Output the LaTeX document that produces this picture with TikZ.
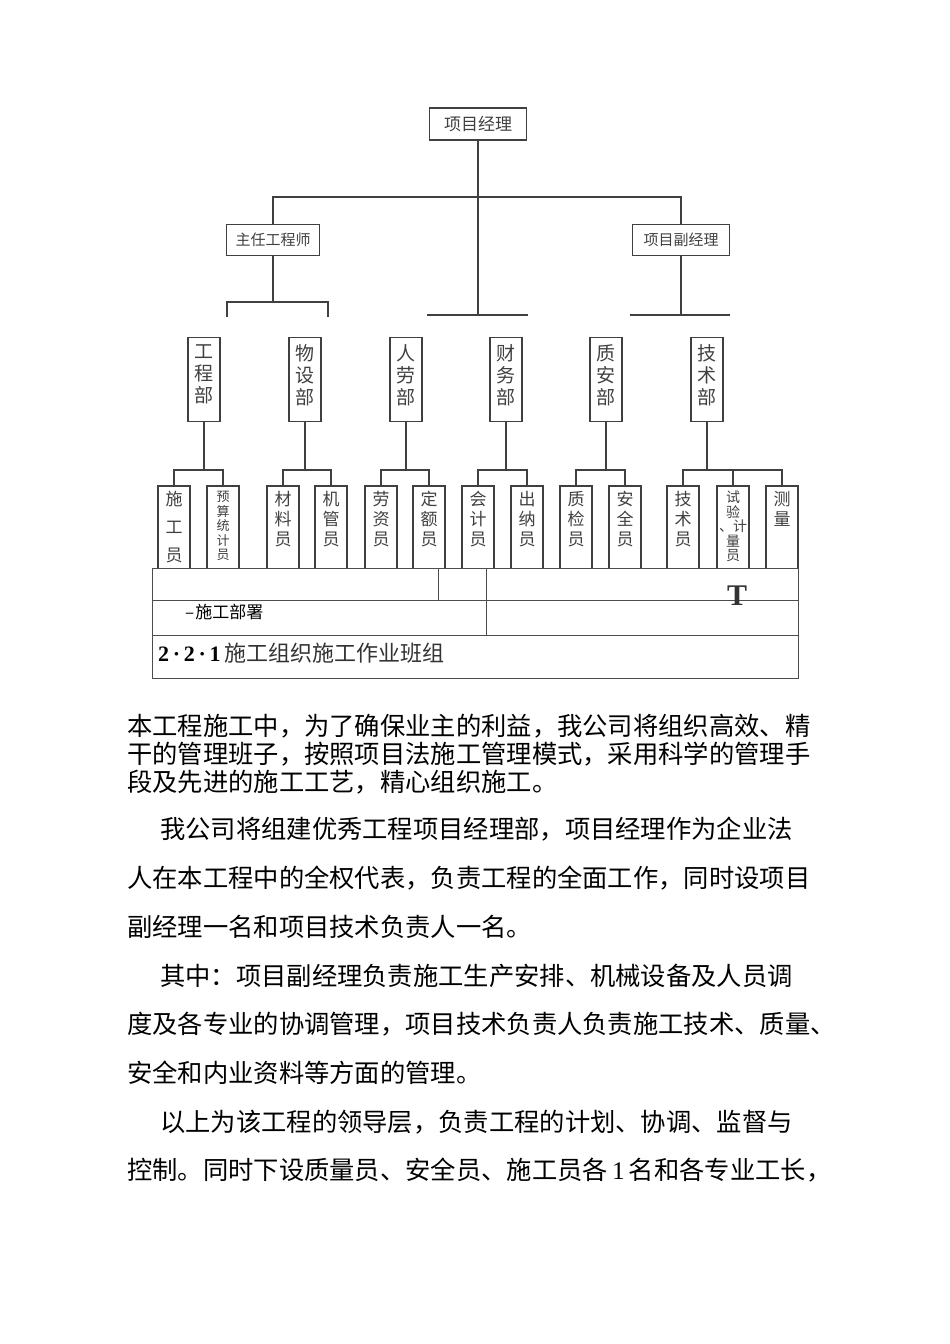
\documentclass[tikz,border=0pt]{standalone}
\usepackage{fontspec}
\setmainfont{Liberation Serif}
\newfontfamily\cjk{Noto Sans CJK SC}
\begin{document}
\begin{tikzpicture}[x=1pt,y=-1pt,
  ln/.style={draw=black!75,line width=1.2pt},
  bx/.style={draw=black!75,line width=1.2pt,inner sep=0pt},
  vt/.style={text=black!75,align=center,inner sep=0pt,anchor=north},
  body/.style={anchor=base west,inner sep=0pt,font=\cjk\fontsize{25.3}{27}\selectfont}]
\useasboundingbox (0,0) rectangle (950,1344);
% top level
\node[bx,minimum width=97,minimum height=32,font=\cjk\fontsize{17}{18}\selectfont,text=black!75] (pm) at (478,124) {项目经理};
\node[bx,minimum width=93,minimum height=31,font=\cjk\fontsize{15}{16}\selectfont,text=black!75] (ce) at (273,240) {主任工程师};
\node[bx,minimum width=97,minimum height=31,font=\cjk\fontsize{15}{16}\selectfont,text=black!75] (dpm) at (681,240) {项目副经理};
\draw[ln] (pm.south) -- (478,315);
\draw[ln] (ce.north) -- (273,197) -- (681,197) -- (dpm.north);
\draw[ln] (427,315) -- (528,315);
\draw[ln] (dpm.south) -- (681,315);
\draw[ln] (630,315) -- (730,315);
\draw[ln] (ce.south) -- (273,302);
\draw[ln] (227,317) |- (328,302) -- (328,317);
% departments
\foreach \n/\x/\t in {d1/204/工\\程\\部, d2/305/物\\设\\部, d3/406/人\\劳\\部, d4/506/财\\务\\部, d5/606/质\\安\\部, d6/707/技\\术\\部}{
  \node[bx,minimum width=32,minimum height=84,anchor=north] (\n) at (\x,337) {};
  \node[vt,font=\cjk\fontsize{19}{22}\selectfont] at (\x,344) {\t};
}
% staff
\foreach \x/\d/\t/\f in {174/d1/施\\工\\员/{\fontsize{17}{28}}, 223/d1/预\\算\\统\\计\\员/{\fontsize{13}{14.5}},
  283/d2/材\\料\\员/{\fontsize{17}{20}}, 331/d2/机\\管\\员/{\fontsize{17}{20}},
  381/d3/劳\\资\\员/{\fontsize{17}{20}}, 429/d3/定\\额\\员/{\fontsize{17}{20}},
  478/d4/会\\计\\员/{\fontsize{17}{20}}, 527/d4/出\\纳\\员/{\fontsize{17}{20}},
  576/d5/质\\检\\员/{\fontsize{17}{20}}, 625/d5/安\\全\\员/{\fontsize{17}{20}},
  683/d6/技\\术\\员/{\fontsize{17}{20}}, 733/d6/试\\验\\、计\\量\\员/{\fontsize{14}{14.5}}, 782/d6/测\\量/{\fontsize{17}{20}}}{
  \draw[ln] (\x-16,568) -- (\x-16,486) -- (\x+16,486) -- (\x+16,568);
  \draw[ln] (\d.south) -- (\d.south|-0,470) -| (\x,486);
  \begin{scope}
  \clip (\x-16,486) rectangle (\x+16,567);
  \node[vt,font=\cjk\f\selectfont] at (\x,491) {\t};
  \end{scope}
}
% table
\draw[draw=black!70,line width=1pt] (152,568) rectangle (798,678);
\draw[draw=black!70,line width=1pt] (152,600) -- (798,600) (152,635) -- (798,635)
  (438,568) -- (438,600) (486,568) -- (486,635);
\node[anchor=base,inner sep=0pt,font=\bfseries\fontsize{30}{30}\selectfont,text=black!80] (T) at (737,605) {T};
\node[anchor=base west,inner sep=0pt,font=\cjk\itshape\fontsize{17}{18}\selectfont] (sb) at (185,618) {–\kern1pt\cjk 施工部署};
\node[anchor=base west,inner sep=0pt] (h) at (158,661) {\fontsize{22}{24}\selectfont\textbf{2\,·\,2\,·\,1}\,{\cjk\color{black!80}施工组织施工作业班组}};
% body
\node[body] (l1) at (127,735) {本工程施工中，为了确保业主的利益，我公司将组织高效、精};
\node[body] (l2) at (127,763) {干的管理班子，按照项目法施工管理模式，采用科学的管理手};
\node[body] (l3) at (127,791) {段及先进的施工工艺，精心组织施工。};
\node[body] (l4) at (160,838) {我公司将组建优秀工程项目经理部，项目经理作为企业法};
\node[body] (l5) at (127,887) {人在本工程中的全权代表，负责工程的全面工作，同时设项目};
\node[body] (l6) at (127,936) {副经理一名和项目技术负责人一名。};
\node[body] (l7) at (160,985) {其中：项目副经理负责施工生产安排、机械设备及人员调};
\node[body] (l8) at (127,1033) {度及各专业的协调管理，项目技术负责人负责施工技术、质量、};
\node[body] (l9) at (127,1082) {安全和内业资料等方面的管理。};
\node[body] (l10) at (160,1131) {以上为该工程的领导层，负责工程的计划、协调、监督与};
\node[body] (l11) at (127,1179) {控制。同时下设质量员、安全员、施工员各\,{\rmfamily 1}\,名和各专业工长，};
\end{tikzpicture}
\end{document}
